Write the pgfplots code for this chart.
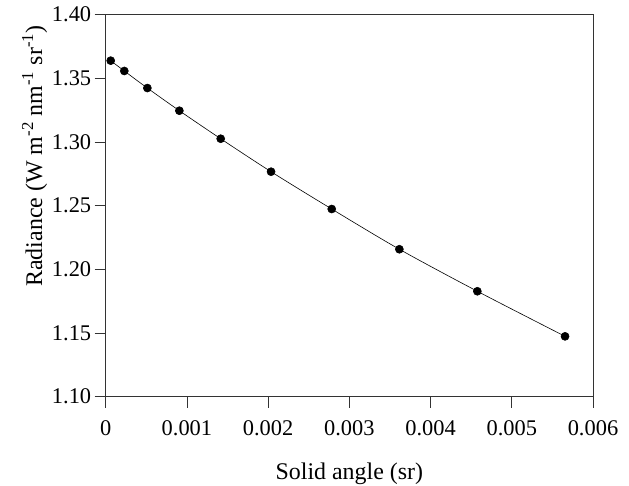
\documentclass[border=0pt]{standalone}
\usepackage{pgfplots}
\pgfplotsset{compat=1.18}
\usepackage{fontspec}
\setmainfont{Liberation Serif}
\begin{document}
\begin{tikzpicture}
\useasboundingbox (-105.7bp,-89.3bp) rectangle (523.3bp,396.7bp);
\begin{axis}[
  at={(0,0)}, anchor=south west,
  scale only axis, width=487.3bp, height=382bp,
  xmin=0, xmax=0.006, ymin=1.10, ymax=1.40,
  scaled x ticks=false,
  xtick={0,0.001,0.002,0.003,0.004,0.005,0.006},
  xticklabels={0,0.001,0.002,0.003,0.004,0.005,0.006},
  ytick={1.10,1.15,1.20,1.25,1.30,1.35,1.40},
  yticklabel style={/pgf/number format/.cd,fixed,fixed zerofill,precision=2},
  /pgf/number format/assume math mode=true,
  tick align=outside,
  xtick pos=bottom, ytick pos=left,
  major tick length=11bp,
  tick style={black!80, line width=0.6pt},
  axis line style={black!80, line width=0.6pt},
  ticklabel style={font=\fontsize{22.5}{26}\selectfont},
  xticklabel style={yshift=-9bp},
  xlabel={Solid angle (sr)},
  ylabel={Radiance (W m\textsuperscript{-2} nm\textsuperscript{-1} sr\textsuperscript{-1})},
  label style={font=\fontsize{24}{28}\selectfont},
  xlabel style={at={(axis description cs:0.5,-0.218)}, anchor=base},
  ylabel style={at={(axis description cs:-0.1307,0.63)}, anchor=base},
]
\addplot[black, line width=0.6pt, smooth, mark=*, mark size=4bp, mark options={fill=black}] coordinates {
(0.0000616,1.3639)
(0.000229,1.3558)
(0.000513,1.3424)
(0.000907,1.3246)
(0.001416,1.3026)
(0.002036,1.2767)
(0.002783,1.2474)
(0.003616,1.2158)
(0.004576,1.1828)
(0.005656,1.1474)
};
\end{axis}
\end{tikzpicture}
\end{document}
